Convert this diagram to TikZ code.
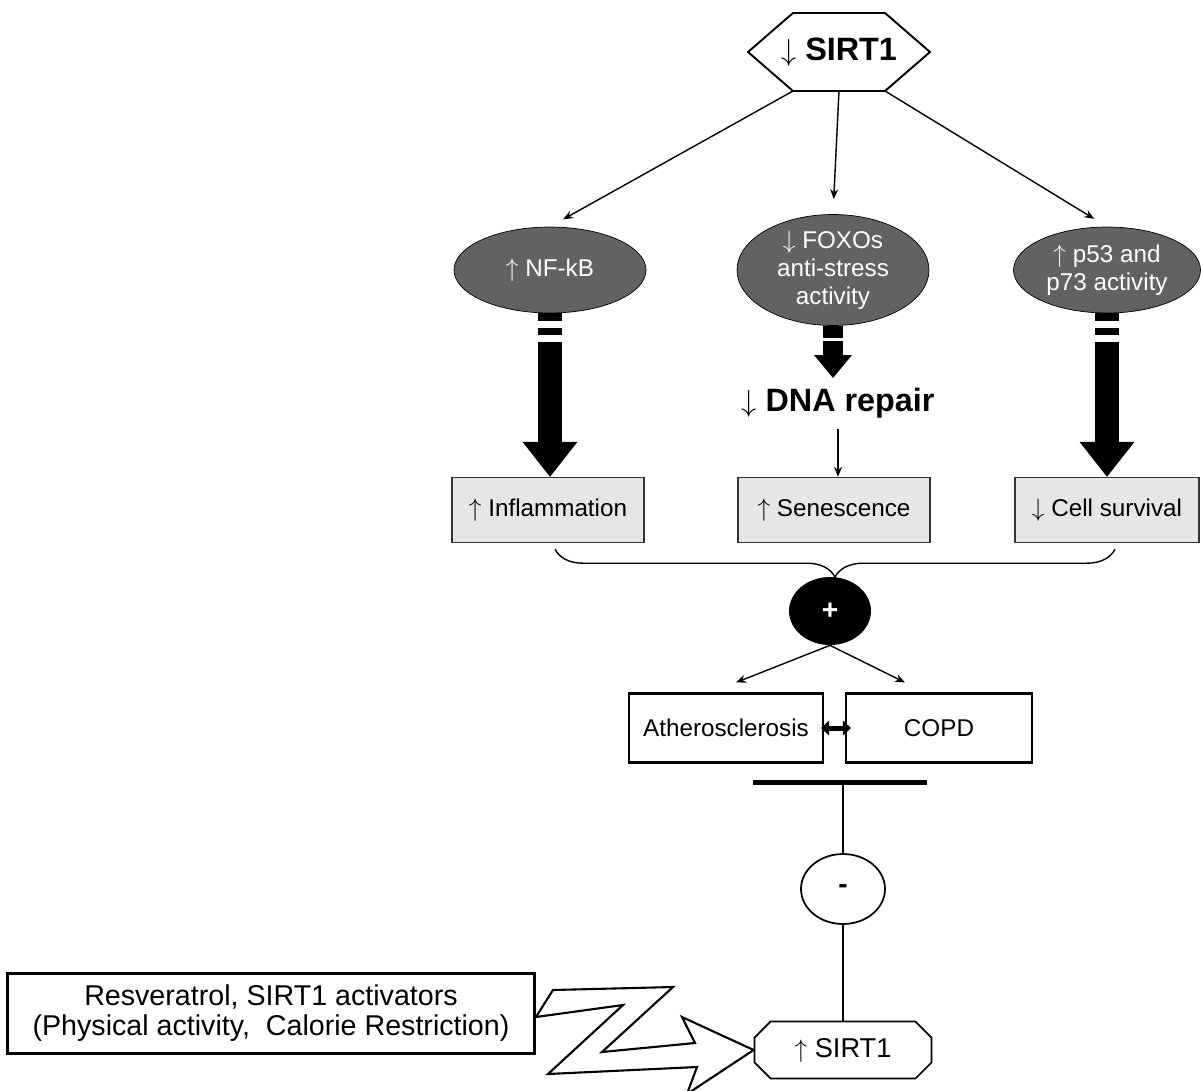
\documentclass[tikz,border=0pt]{standalone}
\usepackage{fontspec}
\setmainfont{Liberation Sans}
\usetikzlibrary{arrows.meta,shapes.geometric,shapes.misc,decorations.pathreplacing}

\definecolor{ovalgray}{RGB}{98,98,98}
\definecolor{boxgray}{RGB}{230,230,230}

\begin{document}
\begin{tikzpicture}
    [x=0.02cm, y=-0.02cm,
    font=\fontsize{13.8}{16}\selectfont,
    oval/.style={ellipse, draw=black, fill=ovalgray, text=white, align=center,
        minimum width=3.84cm, minimum height=1.72cm, inner sep=0pt,
        font=\fontsize{13.8}{15.9}\selectfont},
    effect/.style={rectangle, draw=black!80, fill=boxgray, line width=0.8pt,
        minimum width=3.84cm, minimum height=1.3cm},
    disease/.style={rectangle, draw, line width=1.2pt, minimum height=1.38cm},
    thin arrow/.style={-{Stealth[length=0.2cm,width=0.16cm]}, line width=0.8pt},
    big arrow/.style={line width=0.48cm,
        -{Triangle[length=0.7cm,width=1.1cm,line width=0pt]}},
    zig/.style={draw, fill=white, line width=1.2pt, line join=miter}]

    \useasboundingbox (0,0) rectangle (1201,1090);

    \node[inner sep=0pt, font=\fontsize{18.4}{20}\selectfont] (sirt) at (839,52)
        {$\downarrow$ \textbf{SIRT1}};
    \draw[line width=1.1pt]
        ([shift={(-46,-39)}]sirt.center) -- ([shift={(46,-39)}]sirt.center)
        -- ([shift={(91,0)}]sirt.center)
        -- ([shift={(46,39)}]sirt.center) coordinate (sirtSE)
        -- ([shift={(-46,39)}]sirt.center) coordinate (sirtSW)
        -- ([shift={(-91,0)}]sirt.center) -- cycle;
    \coordinate (sirtS) at ([yshift=-0.78cm]sirt.center);

    \node[oval] (nfkb) at (550,270) {$\uparrow$ NF-kB};
    \node[oval] (foxo) at (833,270) {$\downarrow$ FOXOs\\anti-stress\\activity};
    \node[oval, minimum width=3.74cm] (p53) at (1107,270) {$\uparrow$ p53 and\\p73 activity};

    \draw[thin arrow, shorten >=0.3cm] (sirtSW) -- (nfkb.north);
    \draw[thin arrow, shorten >=0.3cm] (sirtS) -- (foxo.north);
    \draw[thin arrow, shorten >=0.3cm] (sirtSE) -- (p53.north);

    \node[effect] (infl) at (548,510) {$\uparrow$ Inflammation};
    \node[effect] (sen) at (834,510) {$\uparrow$ Senescence};
    \node[effect, minimum width=3.68cm] (cell) at (1107,510) {$\downarrow$ Cell survival};

    \node[anchor=north, inner sep=0pt, font=\fontsize{18.4}{20}\selectfont] (dna) at (838,388)
        {$\downarrow$ \textbf{DNA repair}};

    \draw[big arrow, dash pattern=on 0.16cm off 0.14cm on 0.14cm off 0.14cm on 20cm off 1cm]
        (nfkb.south) -- (nfkb.south |- infl.north);
    \draw[big arrow, dash pattern=on 0.16cm off 0.14cm on 0.14cm off 0.14cm on 20cm off 1cm]
        (p53.south) -- (p53.south |- cell.north);
    \draw[line width=0.4cm, -{Triangle[length=0.46cm,width=0.76cm,line width=0pt]},
        dash pattern=on 0.24cm off 0.06cm on 20cm off 1cm, shorten >=0.2cm]
        (foxo.south) -- (foxo.south |- dna.north);
    \draw[thin arrow, shorten <=0.2cm] (dna.south) -- (dna.south |- sen.north);

    \draw[decorate, decoration={brace, amplitude=0.56cm}, line width=0.8pt]
        ([shift={(8,6)}]cell.south) -- ([shift={(7,6)}]infl.south);

    \node[ellipse, fill=black, minimum width=1.64cm, minimum height=1.36cm, inner sep=0pt,
        text=white, font=\fontsize{16}{18}\selectfont\bfseries] (plus) at (830,611)
        {\raisebox{-0.22cm}{+}};

    \node[disease, minimum width=3.88cm] (ather) at (726,728) {Atherosclerosis};
    \node[disease, minimum width=3.72cm] (copd) at (939,728) {COPD};

    \draw[thin arrow] (plus.south) -- ([shift={(10,-10)}]ather.north);
    \draw[thin arrow] (plus.south) -- ([shift={(-34,-10)}]copd.north);
    \draw[{Triangle[length=0.16cm,width=0.3cm,line width=0pt]}-{Triangle[length=0.16cm,width=0.3cm,line width=0pt]},
        line width=0.1cm] ([xshift=-0.06cm]ather.east) -- ([xshift=0.12cm]copd.west);

    \node[ellipse, draw, line width=1pt, minimum width=1.68cm, minimum height=1.4cm,
        inner sep=0pt, font=\fontsize{16}{18}\selectfont\bfseries] (minus) at (843,889)
        {\raisebox{-0.16cm}{-}};
    \node[chamfered rectangle, draw, line width=1pt, chamfered rectangle xsep=0.16cm,
        chamfered rectangle ysep=0.16cm, minimum width=3.54cm, minimum height=1.14cm,
        font=\fontsize{15.5}{17}\selectfont] (low) at (843,1050) {$\uparrow$ SIRT1};

    \coordinate (bar) at (843,782);
    \draw[line width=0.8pt] (low.north) -- (minus.south);
    \draw[line width=0.8pt] (minus.north) -- (bar);
    \draw[line width=0.1cm] ([xshift=-1.8cm]bar) -- ([xshift=1.68cm]bar);

    \node[rectangle, draw, line width=1.7pt, minimum width=10.54cm, minimum height=1.6cm,
        align=center, font=\fontsize{16.3}{17}\selectfont] (resv) at (271,1013)
        {Resveratrol, SIRT1 activators\\(Physical activity,\ \ Calorie Restriction)};

    \draw[zig] ([yshift=-0.08cm]resv.east) -- (553,990) -- (673,987) -- (602,1052)
        -- (695,1043) -- (682,1017) -- (low.west) -- (687,1094) -- (697,1067)
        -- (548,1074) -- (623,1005) -- cycle;

\end{tikzpicture}
\end{document}
